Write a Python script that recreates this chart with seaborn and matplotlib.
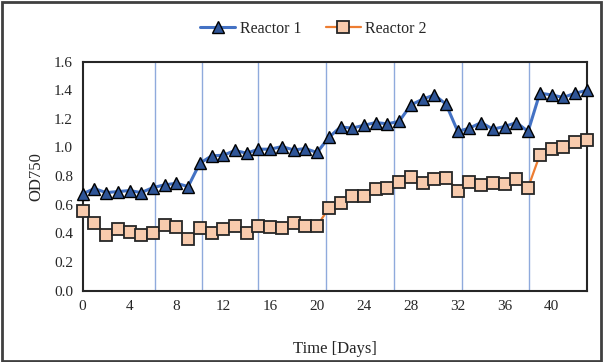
import matplotlib
matplotlib.use("Agg")
import matplotlib.pyplot as plt
import seaborn as sns
import pandas as pd
from matplotlib.patches import Rectangle

days = list(range(44))
reactor1 = [0.676, 0.713, 0.685, 0.692, 0.699, 0.685, 0.720, 0.739, 0.750, 0.727,
            0.890, 0.941, 0.946, 0.979, 0.960, 0.988, 0.988, 1.006, 0.983, 0.992,
            0.965, 1.070, 1.143, 1.135, 1.155, 1.174, 1.165, 1.182, 1.297, 1.337,
            1.367, 1.302, 1.112, 1.135, 1.174, 1.128, 1.146, 1.174, 1.112, 1.379,
            1.367, 1.349, 1.379, 1.398]
reactor2 = [0.559, 0.475, 0.389, 0.431, 0.412, 0.389, 0.401, 0.459, 0.447, 0.359,
            0.436, 0.401, 0.431, 0.454, 0.405, 0.454, 0.447, 0.436, 0.471, 0.454,
            0.450, 0.578, 0.613, 0.664, 0.664, 0.708, 0.715, 0.757, 0.797, 0.755,
            0.778, 0.789, 0.699, 0.757, 0.739, 0.750, 0.743, 0.778, 0.720, 0.948,
            0.990, 1.006, 1.036, 1.052]
vlines_days = [6.2, 10.15, 15.0, 20.75, 26.55, 32.35, 38.1]
x_ticks = list(range(0, 41, 4))
y_ticks = [0.0, 0.2, 0.4, 0.6, 0.8, 1.0, 1.2, 1.4, 1.6]

sns.set_theme(style="white")
plt.rcParams['font.family'] = ['Liberation Serif', 'DejaVu Serif']
plt.rcParams['font.size'] = 11

df = pd.DataFrame({"day": days, "r1": reactor1, "r2": reactor2})

fig = plt.figure(figsize=(6.03, 3.62), dpi=100)
ax = fig.add_axes([0.137, 0.197, 0.836, 0.633])

for d in vlines_days:
    ax.axvline(d, color="#8FAADC", lw=1.0, zorder=1)

sns.lineplot(data=df, x="day", y="r1", ax=ax, color="#4472C4", lw=2.2,
             marker="^", markersize=8, markerfacecolor="#2F5597",
             markeredgecolor="black", markeredgewidth=1.0, label="Reactor 1",
             zorder=3, clip_on=False)
sns.lineplot(data=df, x="day", y="r2", ax=ax, color="#ED7D31", lw=1.6,
             marker="s", markersize=8, markerfacecolor="#F8CBAD",
             markeredgecolor="#262626", markeredgewidth=1.3, label="Reactor 2",
             zorder=3, clip_on=False)

ax.set_xlim(0, 43)
ax.set_ylim(0, 1.6)
ax.set_xticks(x_ticks)
ax.set_yticks(y_ticks)
ax.set_yticklabels([f"{v:.1f}" for v in y_ticks])
ax.tick_params(axis="both", length=0, labelsize=11, colors="#262626", pad=7)
ax.set_xlabel("Time [Days]", fontsize=12, labelpad=20, color="#262626")
ax.set_ylabel("OD750", fontsize=12, labelpad=7, color="#262626")
for s in ax.spines.values():
    s.set_color("#262626")
    s.set_linewidth(1.5)

ax.legend(loc="center", bbox_to_anchor=(0.52, 0.92), bbox_transform=fig.transFigure,
          ncol=2, frameon=False, fontsize=11.5, handlelength=2.2, columnspacing=1.5,
          handletextpad=0.3)

fig.patches.append(Rectangle((0.004, 0.004), 0.992, 0.99, transform=fig.transFigure,
                             fill=False, edgecolor="#404040", lw=2))

fig.savefig("out.png", dpi=100)
